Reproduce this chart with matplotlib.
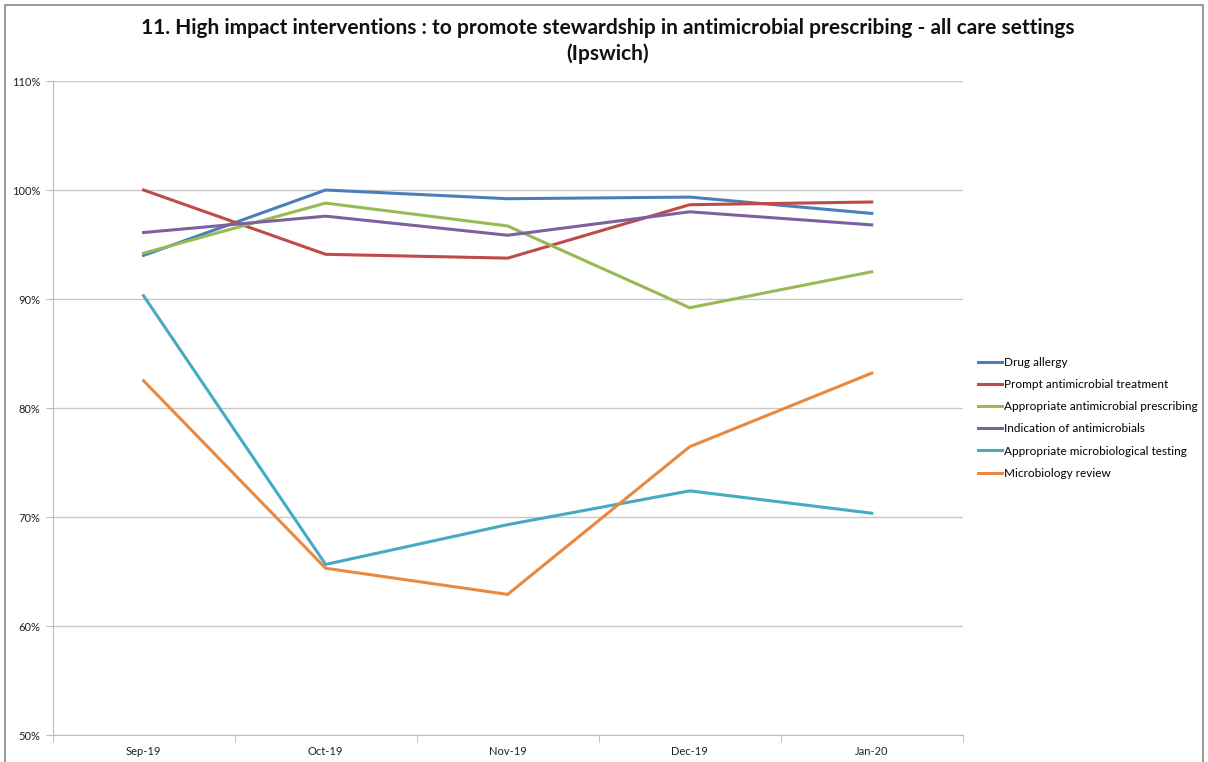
import matplotlib
matplotlib.use("Agg")
import matplotlib.pyplot as plt
from matplotlib.patches import Rectangle
from matplotlib.ticker import FixedLocator, FuncFormatter

plt.rcParams['font.family'] = ['Lato', 'DejaVu Sans']

months = ["Sep-19", "Oct-19", "Nov-19", "Dec-19", "Jan-20"]

drug_allergy = [94.0, 100.0, 99.2, 99.35, 97.85]
prompt_treatment = [100.0, 94.1, 93.75, 98.65, 98.9]
appropriate_prescribing = [94.2, 98.8, 96.7, 89.2, 92.5]
indication = [96.1, 97.6, 95.85, 98.0, 96.8]
microbio_testing = [90.3, 65.65, 69.3, 72.4, 70.35]
microbio_review = [82.5, 65.3, 62.9, 76.45, 83.2]

series = [
    ("Drug allergy", drug_allergy, "#4A7EBB"),
    ("Prompt antimicrobial treatment", prompt_treatment, "#BE4B48"),
    ("Appropriate antimicrobial prescribing", appropriate_prescribing, "#98B954"),
    ("Indication of antimicrobials", indication, "#7D60A0"),
    ("Appropriate microbiological testing", microbio_testing, "#46AAC5"),
    ("Microbiology review", microbio_review, "#E8893F"),
]

fig = plt.figure(figsize=(12.08, 7.62), dpi=100)
ax = fig.add_axes([0.0435, 0.0354, 0.7535, 0.8583])

x = list(range(len(months)))
for name, vals, color in series:
    ax.plot(x, vals, color=color, lw=2.2, label=name, solid_joinstyle='round')

ax.set_xlim(-0.5, len(months) - 0.5)
ax.set_ylim(50, 110)
ax.yaxis.set_major_locator(FixedLocator(range(50, 111, 10)))
ax.yaxis.set_major_formatter(FuncFormatter(lambda v, p: f"{int(v)}%"))
ax.set_xticks(x)
ax.set_xticklabels(months)
ax.set_xticks([i + 0.5 for i in range(-1, len(months))], minor=True)
ax.tick_params(axis='x', which='major', length=0, pad=8, labelsize=8, labelcolor='#222222')
ax.tick_params(axis='x', which='minor', length=5, color='#BBBBBB', direction='out')
ax.tick_params(axis='y', length=5, color='#BBBBBB', labelsize=8, labelcolor='#222222', pad=4)

ax.grid(axis='y', color='#C8C8C8', lw=1)
ax.set_axisbelow(True)
for s in ['top', 'right']:
    ax.spines[s].set_visible(False)
for s in ['left', 'bottom']:
    ax.spines[s].set_color('#BBBBBB')

fig.text(0.503, 0.963, "11. High impact interventions : to promote stewardship in antimicrobial prescribing - all care settings",
         ha='center', va='center', fontsize=15, fontweight='bold', color='#111111')
fig.text(0.503, 0.930, "(Ipswich)", ha='center', va='center', fontsize=15, fontweight='bold', color='#111111')

fig.legend(loc='upper left', bbox_to_anchor=(0.806, 0.538), frameon=False, fontsize=8.5,
           handlelength=2.0, handletextpad=0.2, labelspacing=0.95, borderaxespad=0)

fig.patches.append(Rectangle((0.004, -0.01), 0.992, 1.004, transform=fig.transFigure,
                             fill=False, edgecolor='#888888', lw=1.2))

fig.savefig("out.png", dpi=100)
